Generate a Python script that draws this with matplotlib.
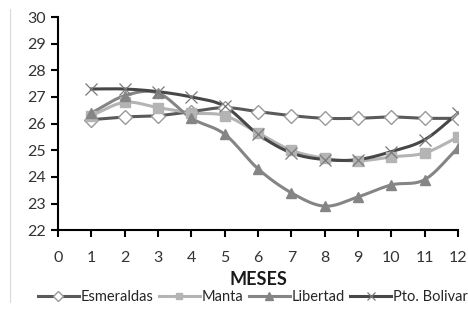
import numpy as np
import matplotlib
matplotlib.use("Agg")
import matplotlib.pyplot as plt
from matplotlib.lines import Line2D

meses = [1, 2, 3, 4, 5, 6, 7, 8, 9, 10, 11, 12]
esmeraldas = [26.15, 26.25, 26.3, 26.45, 26.6, 26.45, 26.3, 26.2, 26.2, 26.25, 26.2, 26.2]
manta = [26.3, 26.8, 26.6, 26.4, 26.3, 25.65, 25.0, 24.7, 24.6, 24.75, 24.9, 25.5]
libertad = [26.4, 27.05, 27.15, 26.2, 25.6, 24.3, 23.4, 22.9, 23.25, 23.7, 23.9, 25.1]
pto_bolivar = [27.3, 27.3, 27.2, 27.0, 26.65, 25.6, 24.9, 24.65, 24.65, 24.95, 25.4, 26.4]


def smooth(x, y, n=20):
    # Catmull-Rom curve through the points, like Excel's smoothed line
    x = np.asarray(x, float)
    y = np.asarray(y, float)
    px = np.concatenate([[2 * x[0] - x[1]], x, [2 * x[-1] - x[-2]]])
    py = np.concatenate([[2 * y[0] - y[1]], y, [2 * y[-1] - y[-2]]])
    t = np.linspace(0, 1, n)
    xs, ys = [], []
    for i in range(1, len(px) - 2):
        for p, out in ((px, xs), (py, ys)):
            p0, p1, p2, p3 = p[i - 1], p[i], p[i + 1], p[i + 2]
            out.extend(0.5 * (2 * p1 + (-p0 + p2) * t
                              + (2 * p0 - 5 * p1 + 4 * p2 - p3) * t ** 2
                              + (-p0 + 3 * p1 - 3 * p2 + p3) * t ** 3))
    return xs, ys


series = [
    ("Esmeraldas", esmeraldas, "#5a5a5a", "D", "white", "#999999", 7, 1.0),
    ("Manta", manta, "#b4b4b4", "s", "#b4b4b4", "#b4b4b4", 6.5, 1.0),
    ("Libertad", libertad, "#858585", "^", "#858585", "#858585", 7.5, 1.0),
    ("Pto. Bolivar", pto_bolivar, "#474747", "x", "none", "#7a7a7a", 9, 0.9),
]

plt.rcParams["font.family"] = ["Lato", "DejaVu Sans"]

fig = plt.figure(figsize=(4.68, 3.11), dpi=100)
ax = fig.add_axes([0.124, 0.26, 0.855, 0.685])

handles = []
for name, vals, color, marker, mfc, mec, ms, mew in series:
    sx, sy = smooth(meses, vals)
    ax.plot(sx, sy, color=color, lw=2.2, zorder=2)
    ax.plot(meses, vals, ls="none", marker=marker, ms=ms, mfc=mfc, mec=mec,
            mew=mew, zorder=3)
    handles.append(Line2D([], [], color=color, lw=2.2, marker=marker, ms=ms * 0.7,
                          mfc=mfc, mec=mec, mew=mew))

ax.set_xlim(0, 12)
ax.set_ylim(22, 30)
ax.set_xticks(range(0, 13))
ax.set_yticks(range(22, 31))
ax.spines["top"].set_visible(False)
ax.spines["right"].set_visible(False)
ax.spines["left"].set_linewidth(1.5)
ax.spines["bottom"].set_linewidth(1.5)
ax.tick_params(direction="out", length=5, width=1.5, labelsize=11.5,
               colors="black", labelcolor="#333333")
ax.tick_params(axis="x", pad=10)
ax.set_xlabel("MESES", fontsize=13, fontweight="bold", labelpad=4, color="#1a1a1a")

fig.legend(handles, [s[0] for s in series], loc="center", ncol=4,
           bbox_to_anchor=(0.54, 0.045), frameon=False, fontsize=10.5,
           handlelength=2.8, handletextpad=0.1, columnspacing=0.4,
           labelcolor="#262626")

fig.add_artist(Line2D([0.021, 0.021], [0.03, 0.97], color="#d9d9d9", lw=0.8))

fig.savefig("out.png", dpi=100)
